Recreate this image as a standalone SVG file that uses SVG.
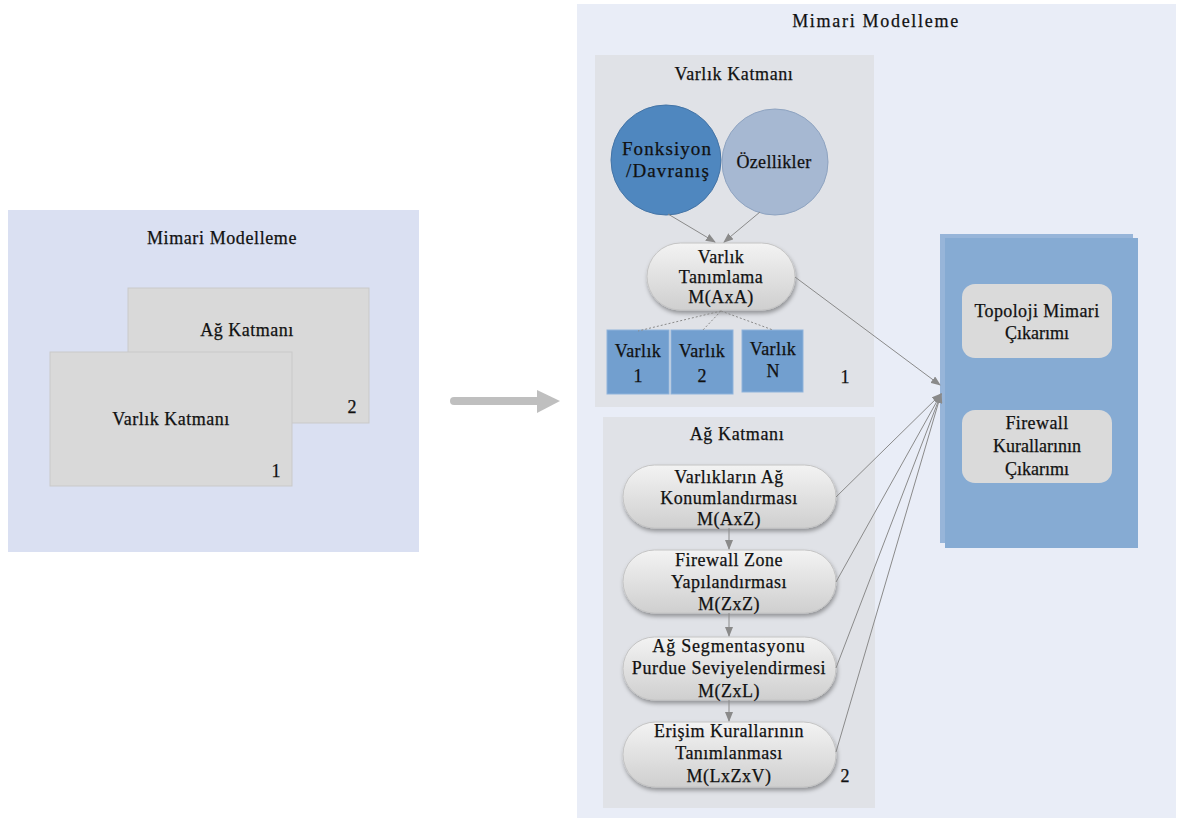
<svg xmlns="http://www.w3.org/2000/svg" width="1178" height="820" viewBox="0 0 1178 820" font-family="'Liberation Serif', 'DejaVu Serif', serif">
<style>
text{font-family:'Liberation Serif','DejaVu Serif',serif;font-size:18px;fill:#111;stroke:#111;stroke-width:0.25;text-anchor:middle}
.panel{fill:#e0e2e7}
.conn{stroke:#8a8a8a;stroke-width:1;fill:none}
.dot{stroke:#8a8a8a;stroke-width:1;fill:none;stroke-dasharray:2 2}
.pill{fill:url(#pg);stroke:#c4c4c4;stroke-width:1;filter:url(#sh)}
.card{fill:#d9d9d9;stroke:#c9c9c9;stroke-width:1}
.vbox{fill:#729fcf;stroke:#8fb3db;stroke-width:1}
.ibox{fill:#dadada}
.ct{font-size:19px;letter-spacing:1.1px}
</style>
<defs>
<linearGradient id="pg" x1="0" y1="0" x2="0" y2="1">
<stop offset="0" stop-color="#f3f3f3"/>
<stop offset="1" stop-color="#cfcfcf"/>
</linearGradient>
<filter id="sh" x="-10%" y="-10%" width="125%" height="135%">
<feDropShadow dx="1" dy="3" stdDeviation="2" flood-color="#000" flood-opacity="0.35"/>
</filter>
<marker id="ah" markerWidth="10" markerHeight="8" refX="9" refY="4" orient="auto" markerUnits="userSpaceOnUse">
<path d="M0,0 L10,4 L0,8 Z" fill="#8a8a8a"/>
</marker>
</defs>

<rect width="1178" height="820" fill="#ffffff"/>

<g id="left-panel">
<rect x="8" y="210" width="411" height="342" fill="#dae0f2"/>
<text x="222" y="244" letter-spacing="0.6">Mimari Modelleme</text>
</g>
<g id="card-ag">
<rect class="card" x="128" y="288" width="241" height="135"/>
<text x="247" y="336" letter-spacing="0.5">Ağ Katmanı</text>
<text x="352" y="413">2</text>
</g>
<g id="card-varlik">
<rect class="card" x="50" y="352" width="242" height="134"/>
<text x="171" y="425" letter-spacing="0.5">Varlık Katmanı</text>
<text x="276" y="477">1</text>
</g>

<g id="big-arrow">
<line x1="454" y1="401" x2="540" y2="401" stroke="#bfbfbf" stroke-width="8" stroke-linecap="round"/>
<polygon points="537,390 560,401 537,413" fill="#bfbfbf"/>
</g>

<g id="right-panel">
<rect x="577" y="4" width="599" height="814" fill="#e9edf7"/>
<text x="876" y="27" letter-spacing="1.7">Mimari Modelleme</text>
</g>

<g id="varlik-katmani">
<rect class="panel" x="595" y="55" width="279" height="352"/>
<text x="734" y="80" letter-spacing="0.6">Varlık Katmanı</text>
<text x="845" y="383">1</text>
</g>

<g id="ag-katmani">
<rect class="panel" x="603" y="417" width="272" height="391"/>
<text x="737" y="440" letter-spacing="0.6">Ağ Katmanı</text>
<text x="845" y="782">2</text>
</g>

<g id="fonksiyon">
<circle cx="666" cy="160" r="55" fill="#4f87bf" stroke="#4474a6" stroke-width="1"/>
<text class="ct" x="667" y="155">Fonksiyon</text>
<text class="ct" x="668" y="177">/Davranış</text>
</g>
<g id="ozellikler">
<circle cx="775" cy="162" r="53" fill="#a6b8d2" stroke="#8ea3c0" stroke-width="1"/>
<text x="774" y="168" letter-spacing="0.3">Özellikler</text>
</g>

<g id="varlik-tanimlama">
<rect class="pill" x="647" y="243" width="148" height="67" rx="33.5"/>
<text x="721" y="263" letter-spacing="0.4">Varlık</text>
<text x="721" y="283" letter-spacing="0.4">Tanımlama</text>
<text x="721" y="303" letter-spacing="0.4">M(AxA)</text>
</g>

<g id="varlik-1">
<rect class="vbox" x="607" y="330" width="62" height="64"/>
<text x="638" y="357" letter-spacing="0.4">Varlık</text>
<text x="638" y="382">1</text>
</g>
<g id="varlik-2">
<rect class="vbox" x="671" y="330" width="62" height="64"/>
<text x="702" y="357" letter-spacing="0.4">Varlık</text>
<text x="702" y="382">2</text>
</g>
<g id="varlik-n">
<rect class="vbox" x="742" y="330" width="61" height="62"/>
<text x="773" y="355" letter-spacing="0.4">Varlık</text>
<text x="773" y="377">N</text>
</g>

<g id="pill-1">
<rect class="pill" x="623" y="465" width="213" height="63" rx="31.5"/>
<text x="729" y="483" letter-spacing="0.5">Varlıkların Ağ</text>
<text x="729" y="504" letter-spacing="0.5">Konumlandırması</text>
<text x="729" y="525" letter-spacing="0.5">M(AxZ)</text>
</g>
<g id="pill-2">
<rect class="pill" x="623" y="550" width="213" height="63" rx="31.5"/>
<text x="729" y="566" letter-spacing="0.5">Firewall Zone</text>
<text x="729" y="588" letter-spacing="0.5">Yapılandırması</text>
<text x="729" y="610" letter-spacing="0.5">M(ZxZ)</text>
</g>
<g id="pill-3">
<rect class="pill" x="623" y="637" width="213" height="63" rx="31.5"/>
<text x="729" y="652" letter-spacing="0.8">Ağ Segmentasyonu</text>
<text x="729" y="674" letter-spacing="0.6">Purdue Seviyelendirmesi</text>
<text x="729" y="697" letter-spacing="0.5">M(ZxL)</text>
</g>
<g id="pill-4">
<rect class="pill" x="623" y="722" width="213" height="65" rx="32.5"/>
<text x="729" y="737" letter-spacing="0.5">Erişim Kurallarının</text>
<text x="729" y="759" letter-spacing="0.5">Tanımlanması</text>
<text x="729" y="782" letter-spacing="0.5">M(LxZxV)</text>
</g>

<g id="output-box">
<rect x="940" y="234" width="193" height="309" fill="#97b5d9"/>
<rect x="945" y="238" width="193" height="310" fill="#86abd3"/>
</g>
<g id="topoloji">
<rect class="ibox" x="962" y="284" width="150" height="74" rx="13"/>
<text x="1037" y="317" letter-spacing="0.4">Topoloji Mimari</text>
<text x="1037" y="339">Çıkarımı</text>
</g>
<g id="firewall-kurallari">
<rect class="ibox" x="962" y="410" width="150" height="73" rx="13"/>
<text x="1037" y="429" letter-spacing="0.4">Firewall</text>
<text x="1037" y="452">Kurallarının</text>
<text x="1037" y="475">Çıkarımı</text>
</g>

<g id="connectors">
<line class="conn" x1="668" y1="214" x2="715" y2="242" marker-end="url(#ah)"/>
<line class="conn" x1="760" y1="212" x2="724" y2="242" marker-end="url(#ah)"/>
<line class="dot" x1="721" y1="311" x2="638" y2="331"/>
<line class="dot" x1="721" y1="311" x2="702" y2="331"/>
<line class="dot" x1="721" y1="311" x2="773" y2="330"/>
<line class="conn" x1="795" y1="277" x2="940" y2="385" marker-end="url(#ah)"/>
<line class="conn" x1="836" y1="497" x2="941" y2="394" marker-end="url(#ah)"/>
<line class="conn" x1="836" y1="582" x2="941" y2="394" marker-end="url(#ah)"/>
<line class="conn" x1="836" y1="668" x2="941" y2="394" marker-end="url(#ah)"/>
<line class="conn" x1="836" y1="752" x2="941" y2="394" marker-end="url(#ah)"/>
<line class="conn" x1="729" y1="528" x2="729" y2="549" marker-end="url(#ah)"/>
<line class="conn" x1="729" y1="613" x2="729" y2="636" marker-end="url(#ah)"/>
<line class="conn" x1="729" y1="700" x2="729" y2="721" marker-end="url(#ah)"/>
</g>
</svg>
